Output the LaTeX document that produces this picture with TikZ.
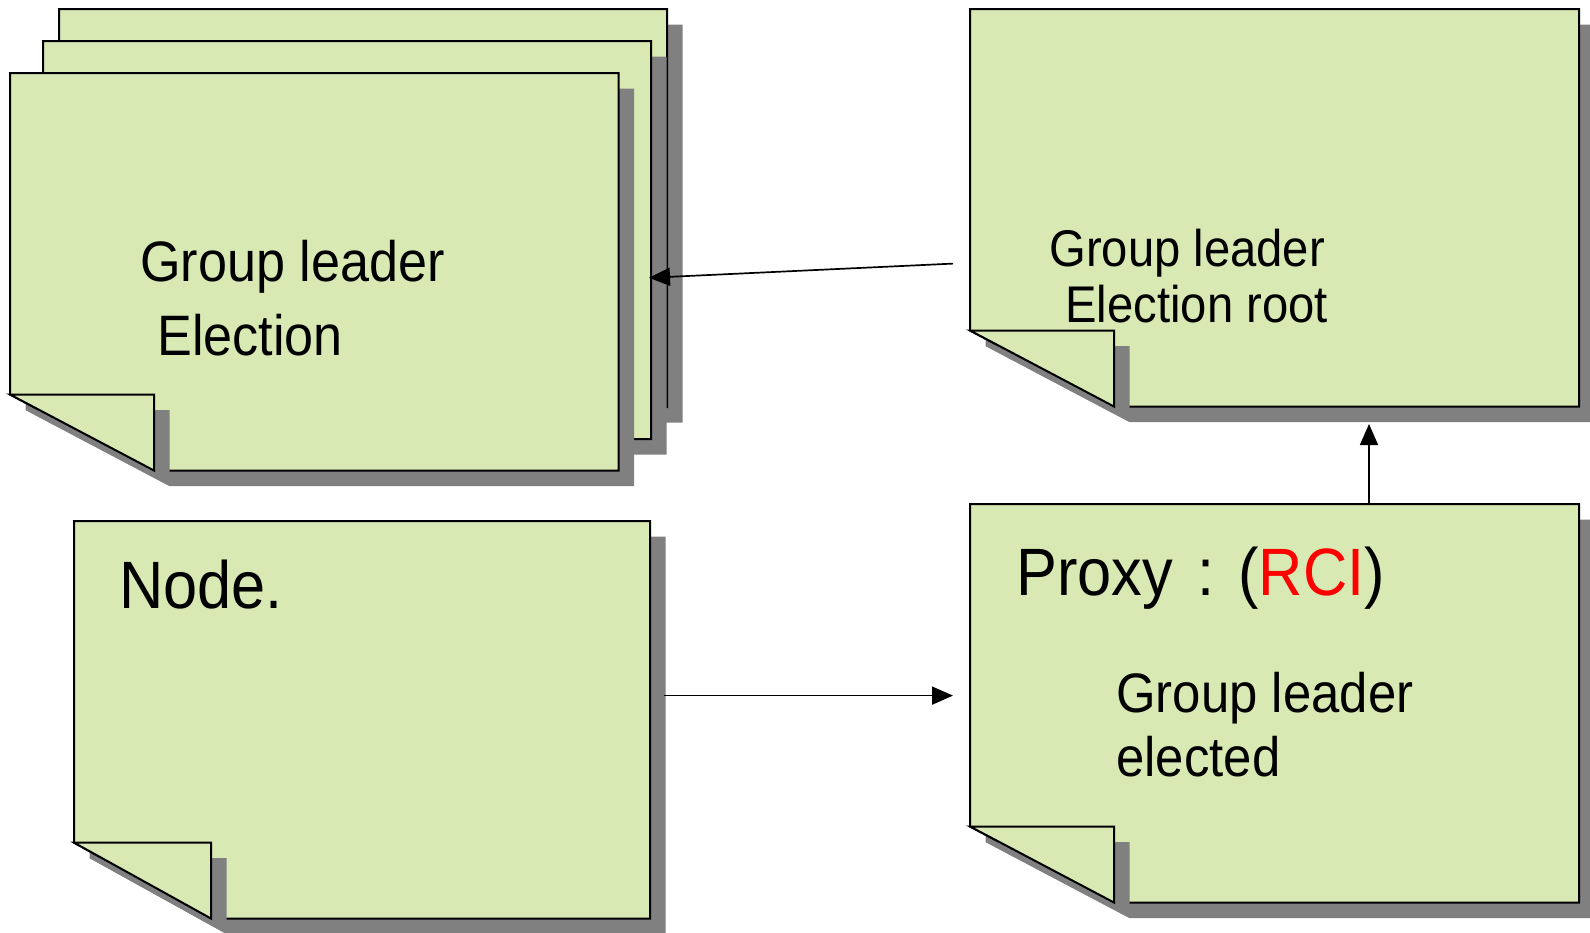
\documentclass[tikz,border=0pt]{standalone}
\usepackage{fontspec}
\setmainfont[FakeStretch=0.915]{Liberation Sans}
\usetikzlibrary{arrows.meta}
\definecolor{notegreen}{RGB}{216,233,179}
\definecolor{shadegray}{RGB}{128,128,128}
\newcommand\notepage[7]{%
  \fill[shadegray,shift={(15.5,15.5)}] (#2,#3) -- (#4,#3) -- (#4,#5) -- (#6,#5) -- (#2,#7) -- cycle;
  \filldraw[pagebody] (#2,#3) -- (#4,#3) -- (#4,#5) -- (#6,#5) -- (#2,#7) -- cycle;
  \fill[shadegray,shift={(15.5,15.5)}] (#2,#7) -- (#6,#7) -- (#6,#5) -- cycle;
  \filldraw[pagebody] (#2,#7) -- (#6,#7) -- (#6,#5) -- cycle;
  \coordinate (#1) at (#2,#3);
}
\tikzset{
  pagebody/.style={fill=notegreen,draw=black,line width=1pt,line join=miter},
  label/.style={anchor=base west,inner sep=0pt,text=black},
  conn/.style={draw=black,line width=0.85pt,-{Triangle[length=10.5pt,width=9pt]}}
}
\begin{document}
\begin{tikzpicture}[x=0.5pt,y=-0.5pt]
\useasboundingbox (0,0) rectangle (1590,932);
% left stack
\notepage{back}{59}{9}{667}{407}{203}{331}
\notepage{mid}{43}{41}{651}{439}{187}{363}
\notepage{front}{10}{73}{618.5}{470.5}{154}{394.5}
% top right
\notepage{root}{970}{9}{1579}{406.5}{1114}{330.5}
% node
\notepage{nodep}{74}{521}{650}{918.5}{211}{842.6}
% proxy
\notepage{proxy}{970}{504}{1579}{902.5}{1114}{826.5}

\node[label,font=\fontsize{28.5pt}{34pt}\selectfont] (t1) at (140,281) {Group leader};
\node[label,font=\fontsize{28.5pt}{34pt}\selectfont] (t2) at (157,355) {Election};

\node[label,font=\fontsize{25.8pt}{31pt}\selectfont] (t3) at (1049,266) {Group leader};
\node[label,font=\fontsize{25.8pt}{31pt}\selectfont] (t4) at (1065,322) {Election root};

\node[label,font=\fontsize{33.5pt}{40pt}\selectfont] (t5) at (119,608) {Node.};

\node[label,font=\fontsize{33.5pt}{40pt}\selectfont] (t6) at (1016,595) {Proxy\hspace{0.36em}:\hspace{0.36em}(\textcolor{red}{RCI})};
\node[label,font=\fontsize{27.8pt}{33pt}\selectfont] (t7) at (1116,712) {Group leader};
\node[label,font=\fontsize{27.8pt}{33pt}\selectfont] (t8) at (1116,776) {elected};

% connectors
\coordinate (a1s) at (953,263.6);
\coordinate (a1e) at (649,277.8);
\coordinate (a2s) at (664,695.6);
\coordinate (a2e) at (953,695.6);
\coordinate (a3s) at (1369,504);
\coordinate (a3e) at (1369,424);
\draw[conn] (a1s) -- (a1e);
\draw[conn] (a2s) -- (a2e);
\draw[conn] (a3s) -- (a3e);
\end{tikzpicture}
\end{document}
